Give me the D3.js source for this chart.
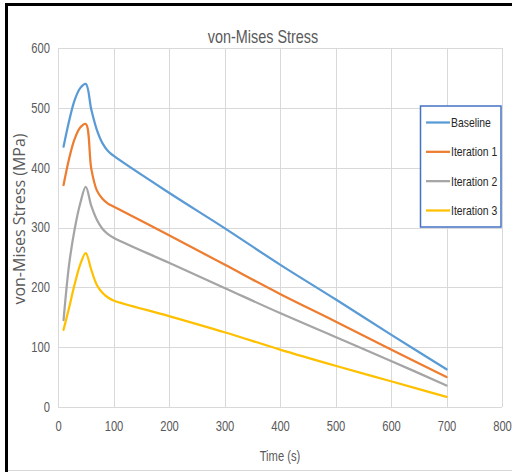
<!DOCTYPE html>
<html>
<head>
<meta charset="utf-8">
<script src="https://cdn.jsdelivr.net/npm/d3@7"></script>
<style>
  body { margin: 0; background: #fff; }
  svg { display: block; }
</style>
</head>
<body>
<div id="chart"></div>
<script>
// time points (s)
const times = [10, 20, 30, 40, 50, 60, 70, 80, 90, 100, 200, 300, 400, 500, 600, 700];

// von-Mises stress (MPa)
const baseline   = [435, 478, 513, 533, 540, 497, 463, 441, 428, 420, 358, 299, 238, 180, 121, 63];
const iteration1 = [371, 415, 448, 467, 473, 398, 362, 348, 340, 335, 287, 238, 189, 143, 96, 50];
const iteration2 = [145, 238, 297, 340, 368, 336, 313, 298, 289, 283, 241, 199, 157, 117, 77, 36];
const iteration3 = [129, 166, 205, 238, 257, 229, 204, 191, 183, 178, 152, 125, 96, 69, 43, 17];

const seriesNames = ['Baseline', 'Iteration 1', 'Iteration 2', 'Iteration 3'];
const seriesColors = ['#5B9BD5', '#ED7D31', '#A5A5A5', '#FFC000'];
const xTicks = [0, 100, 200, 300, 400, 500, 600, 700, 800];
const yTicks = [0, 100, 200, 300, 400, 500, 600];

const width = 512;
const height = 472;
const margin = { top: 48, right: 10, bottom: 65, left: 58 };
const squeeze = 0.8; // narrow look of the labels

const svg = d3.select('#chart')
  .append('svg')
  .attr('width', width)
  .attr('height', height);

// frame (black on left / top, light bottom edge)
svg.append('line').attr('x1', 6.5).attr('x2', 6.5).attr('y1', 3).attr('y2', 472)
  .attr('stroke', '#000').attr('stroke-width', 3);
svg.append('line').attr('x1', 5).attr('x2', 512).attr('y1', 4.5).attr('y2', 4.5)
  .attr('stroke', '#000').attr('stroke-width', 3);
svg.append('line').attr('x1', 8).attr('x2', 512).attr('y1', 470.5).attr('y2', 470.5)
  .attr('stroke', '#d9d9d9').attr('stroke-width', 1);

const x = d3.scaleLinear().domain([0, 800]).range([margin.left, 502]);
const y = d3.scaleLinear().domain([0, 600]).range([407, margin.top]);

const data = [baseline, iteration1, iteration2, iteration3].map((vals, i) => ({
  name: seriesNames[i],
  color: seriesColors[i],
  values: vals.map((v, j) => ({ t: times[j], v: v }))
}));

// narrow text: place at (px, py) and squeeze horizontally
function narrowText(sel, px, py) {
  return sel.attr('x', px / squeeze)
    .attr('y', py)
    .attr('transform', `scale(${squeeze},1)`)
    .style('font-family', '"Liberation Sans", Arial, sans-serif');
}

// grid
const grid = svg.append('g').attr('class', 'grid');
grid.selectAll('line.vx')
  .data(xTicks)
  .enter().append('line')
  .attr('x1', d => Math.round(x(d)) + 0.5)
  .attr('x2', d => Math.round(x(d)) + 0.5)
  .attr('y1', y(600))
  .attr('y2', y(0))
  .attr('stroke', '#d9d9d9');
grid.selectAll('line.hy')
  .data(yTicks)
  .enter().append('line')
  .attr('x1', x(0))
  .attr('x2', x(800))
  .attr('y1', d => Math.round(y(d)) + 0.5)
  .attr('y2', d => Math.round(y(d)) + 0.5)
  .attr('stroke', '#d9d9d9');

// axes (labels only)
const xAxis = svg.append('g')
  .attr('transform', `translate(0, ${y(0) + 10})`)
  .call(d3.axisBottom(x).tickValues(xTicks).tickSize(0).tickPadding(4));
const yAxis = svg.append('g')
  .attr('transform', `translate(${x(0) - 8}, 0)`)
  .call(d3.axisLeft(y).tickValues(yTicks).tickSize(0).tickPadding(0));
[xAxis, yAxis].forEach(a => {
  a.select('.domain').remove();
  a.selectAll('.tick text')
    .attr('x', 0)
    .attr('transform', `scale(${squeeze},1)`)
    .style('font-family', '"Liberation Sans", Arial, sans-serif')
    .style('font-size', '14px')
    .style('fill', '#595959');
});

// lines
const line = d3.line()
  .x(d => x(d.t))
  .y(d => y(d.v))
  .curve(d3.curveCatmullRom.alpha(0.5));

svg.append('g')
  .selectAll('path')
  .data(data)
  .enter().append('path')
  .attr('d', d => line(d.values))
  .attr('fill', 'none')
  .attr('stroke', d => d.color)
  .attr('stroke-width', 2.25)
  .attr('stroke-linejoin', 'round')
  .attr('stroke-linecap', 'round');

// title
svg.append('text')
  .call(narrowText, 263, 43)
  .attr('text-anchor', 'middle')
  .style('font-size', '18px')
  .style('fill', '#595959')
  .text('von-Mises Stress');

// axis titles
svg.append('text')
  .call(narrowText, 280, 461)
  .attr('text-anchor', 'middle')
  .style('font-size', '14px')
  .style('fill', '#595959')
  .text('Time (s)');

svg.append('text')
  .attr('transform', 'translate(25, 219) rotate(-90)')
  .attr('text-anchor', 'middle')
  .style('font-family', '"Open Sans", sans-serif')
  .style('font-size', '16px')
  .style('fill', '#595959')
  .text('von-Mises Stress (MPa)');

// legend
const legend = svg.append('g');
legend.append('rect')
  .attr('x', 420.5)
  .attr('y', 106)
  .attr('width', 80.5)
  .attr('height', 121)
  .attr('fill', '#fff')
  .attr('stroke', '#4472C4')
  .attr('stroke-width', 1.5);

const rowY = d3.scalePoint().domain(seriesNames).range([122.5, 210.5]);
const item = legend.selectAll('g.item')
  .data(data)
  .enter().append('g')
  .attr('transform', d => `translate(0, ${rowY(d.name)})`);
item.append('line')
  .attr('x1', 426)
  .attr('x2', 450)
  .attr('stroke', d => d.color)
  .attr('stroke-width', 2.25);
item.append('text')
  .call(narrowText, 451, 4.5)
  .style('font-size', '13px')
  .style('fill', '#262626')
  .text(d => d.name);
</script>
</body>
</html>
